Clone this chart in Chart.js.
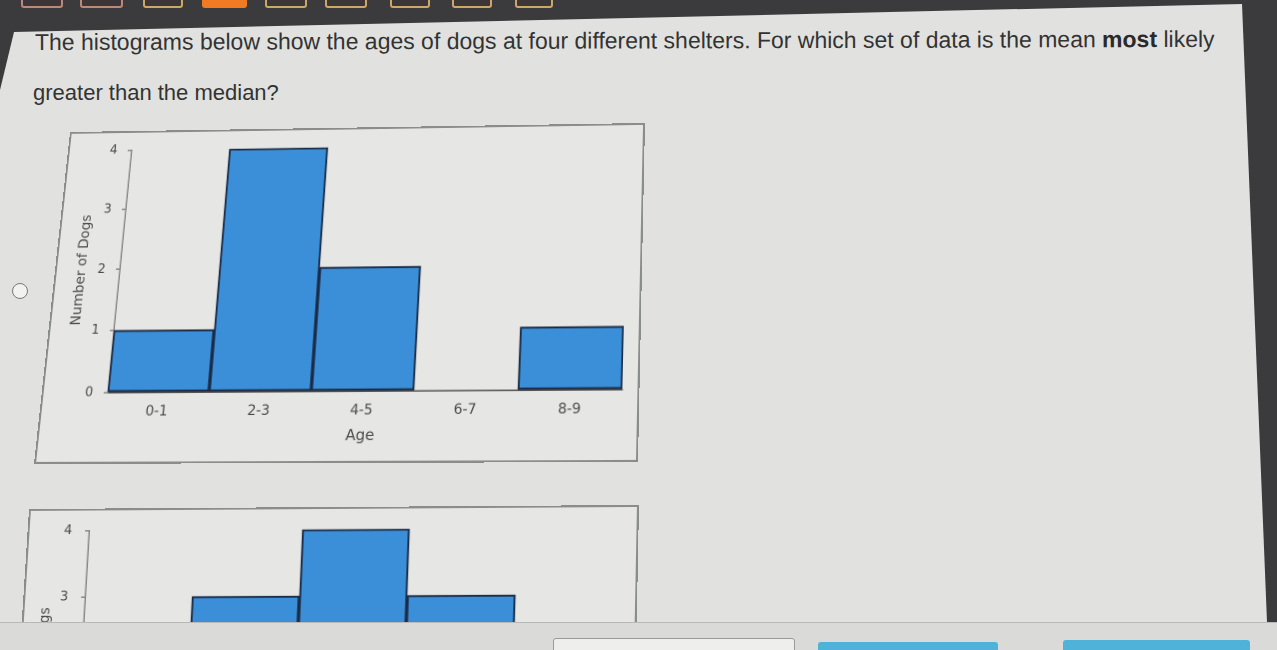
<!DOCTYPE html>
<html>
<head>
<meta charset="utf-8">
<script src="https://cdn.jsdelivr.net/npm/chart.js"></script>
<style>
  html, body { margin: 0; padding: 0; }
  body { width: 1277px; height: 650px; overflow: hidden; position: relative; background: #3b3b3e; font-family: "Liberation Sans", Arial, sans-serif; }
  .tab { position: absolute; top: -4px; height: 12px; border: 2px solid #b98a7c; border-radius: 3px; background: #3d3638; box-sizing: border-box; }
  #panel { position: absolute; left: 0; top: 0; width: 1277px; height: 650px; background: #e1e2df;
           clip-path: polygon(14px 32px, 1242px 4px, 1267px 622px, 0 622px, 0 90px); }
  .q { position: absolute; left: 35px; color: #333; white-space: nowrap; transform-origin: 0 50%; }
  .q b { color: #2a2a2a; }
  .radio { position: absolute; left: 12px; top: 283px; width: 16px; height: 16px; border: 1.5px solid #777; border-radius: 50%; background: #f2f3f0; box-sizing: border-box; }
  .box { position: absolute; left: 0; top: 0; border: 2px solid #8b8d8b; background: #e6e7e4; box-sizing: border-box; }
  .box canvas { position: absolute; left: 0; top: 0; }
  #bottom { position: absolute; left: 0; top: 622px; width: 1277px; height: 28px; background: #dadbd8; border-top: 1px solid #b9bab7; z-index: 5; }
  .btn { position: absolute; border-radius: 3px; box-sizing: border-box; }
</style>
</head>
<body>
<div class="tab" style="left:21px;width:42px"></div>
<div class="tab" style="left:80px;width:43px"></div>
<div class="tab" style="left:143px;width:40px;border-color:#c9a86a"></div>
<div class="tab" style="left:202px;width:45px;border-color:#f07b22;background:#f07b22"></div>
<div class="tab" style="left:265px;width:42px;border-color:#c9a86a"></div>
<div class="tab" style="left:325px;width:42px;border-color:#c9a86a"></div>
<div class="tab" style="left:390px;width:40px;border-color:#c9a86a"></div>
<div class="tab" style="left:452px;width:40px;border-color:#c9a86a"></div>
<div class="tab" style="left:515px;width:38px;border-color:#c9a86a"></div>

<div id="panel"></div>
<div class="q" style="top:28px;font-size:23px;line-height:28px;transform:rotate(-0.15deg)">The histograms below show the ages of dogs at four different shelters. For which set of data is the mean <b>most</b> likely</div>
<div class="q" style="left:33px;top:79px;font-size:22px;line-height:28px">greater than the median?</div>
<div class="radio"></div>

<div class="box" id="box1" style="width:605px;height:340px"><canvas id="chart1"></canvas></div>
<div class="box" id="box2" style="width:610px;height:360px"><canvas id="chart2"></canvas></div>

<div id="bottom">
  <div class="btn" style="left:553px;top:15px;width:242px;height:20px;border:1px solid #9a9b99;background:#eeeeec"></div>
  <div class="btn" style="left:818px;top:19px;width:180px;height:16px;background:#4fb2d8"></div>
  <div class="btn" style="left:1063px;top:17px;width:187px;height:18px;background:#4fb2d8"></div>
</div>

<script>
// 直方圖數據
const ageBins = ['0-1', '2-3', '4-5', '6-7', '8-9'];
const shelterA = [1, 4, 2, 0, 1];
const shelterB = [1, 3, 4, 3, 1];
const yMax = 4;

Chart.defaults.font.family = '"DejaVu Sans", Verdana, sans-serif';
Chart.defaults.color = '#4a4a4a';

// 照片透視：把盒子映射到四邊形
function solve(A, b) {
    const n = b.length;
    for (let i = 0; i < n; i++) {
        let p = i;
        for (let r = i + 1; r < n; r++) if (Math.abs(A[r][i]) > Math.abs(A[p][i])) p = r;
        [A[i], A[p]] = [A[p], A[i]];
        [b[i], b[p]] = [b[p], b[i]];
        for (let r = i + 1; r < n; r++) {
            const f = A[r][i] / A[i][i];
            for (let c = i; c < n; c++) A[r][c] -= f * A[i][c];
            b[r] -= f * b[i];
        }
    }
    const x = new Array(n);
    for (let i = n - 1; i >= 0; i--) {
        let s = b[i];
        for (let c = i + 1; c < n; c++) s -= A[i][c] * x[c];
        x[i] = s / A[i][i];
    }
    return x;
}

function warp(el, w, h, quad) {
    const src = [[0, 0], [w, 0], [w, h], [0, h]];
    const A = [], b = [];
    for (let i = 0; i < 4; i++) {
        const [x, y] = src[i], [u, v] = quad[i];
        A.push([x, y, 1, 0, 0, 0, -u * x, -u * y]); b.push(u);
        A.push([0, 0, 0, x, y, 1, -v * x, -v * y]); b.push(v);
    }
    const k = solve(A, b);
    const m = [k[0], k[3], 0, k[6], k[1], k[4], 0, k[7], 0, 0, 1, 0, k[2], k[5], 0, 1];
    el.style.transformOrigin = '0 0';
    el.style.transform = 'matrix3d(' + m.join(',') + ')';
}

// 生成直方圖
function makeHistogram(id, values, g) {
    const ctx = document.getElementById(id).getContext('2d');
    return new Chart(ctx, {
        type: 'bar',
        data: {
            labels: ageBins,
            datasets: [{
                data: values,
                backgroundColor: '#3a8fd8',
                borderColor: '#1b2b46',
                borderWidth: 2,
                borderSkipped: false,
                barPercentage: 1,
                categoryPercentage: 1
            }]
        },
        options: {
            responsive: false,
            animation: false,
            devicePixelRatio: 2,
            layout: { padding: { left: 0, top: g.top, right: g.right, bottom: 0 } },
            plugins: { legend: { display: false }, tooltip: { enabled: false } },
            scales: {
                x: {
                    grid: { display: false },
                    border: { display: true, color: '#555', width: 1.5 },
                    ticks: { padding: 3, font: { size: 14 } },
                    title: { display: true, text: 'Age', font: { size: 15 }, padding: { top: 4, bottom: g.agePad } },
                    afterFit: s => { s.height = g.xH; }
                },
                y: {
                    min: 0,
                    max: yMax,
                    grid: { drawOnChartArea: false, drawTicks: true, tickLength: 4, color: '#888', lineWidth: 1.5 },
                    border: { display: true, color: '#888', width: 1.5 },
                    ticks: { stepSize: 1, padding: g.tickPad, font: { size: 13 } },
                    title: { display: true, text: 'Number of Dogs', font: { size: 14 }, padding: { top: g.titlePad, bottom: 0 } },
                    afterFit: s => { s.width = g.axisW; }
                }
            }
        }
    });
}

const c1 = document.getElementById('chart1');
c1.width = 601; c1.height = 336;
const c2 = document.getElementById('chart2');
c2.width = 606; c2.height = 356;

makeHistogram('chart1', shelterA, { axisW: 66, top: 14, right: 15, xH: 68, agePad: 15, titlePad: 18, tickPad: 11 });
makeHistogram('chart2', shelterB, { axisW: 60, top: 14, right: 11, xH: 66, agePad: 16, titlePad: 13, tickPad: 13 });

warp(document.getElementById('box1'), 605, 340, [[70, 132], [645, 123], [638, 462], [34, 464]]);
warp(document.getElementById('box2'), 610, 360, [[29, 509], [639, 505], [632, 869], [6, 869]]);
</script>
</body>
</html>
